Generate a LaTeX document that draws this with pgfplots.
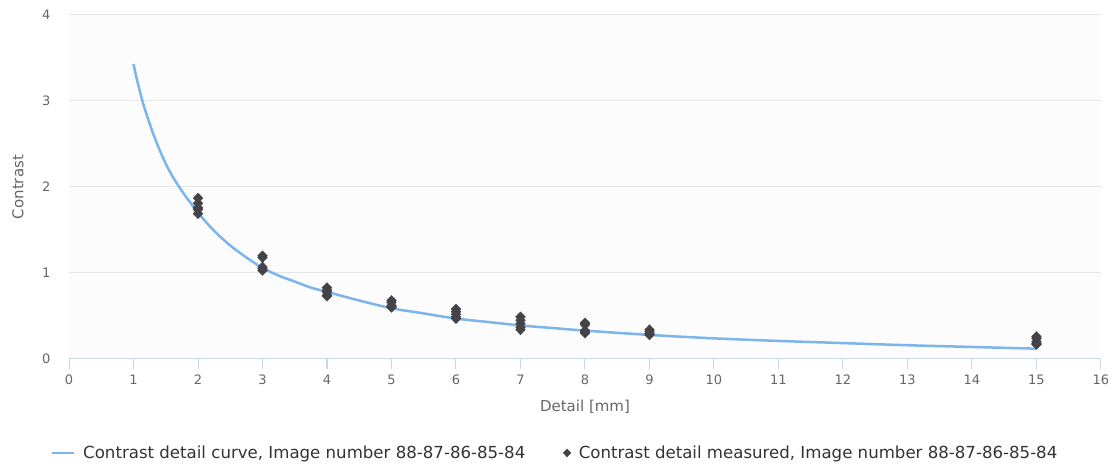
\documentclass[border=0pt]{standalone}
\usepackage{pgfplots}
\pgfplotsset{compat=1.18}
\usepackage{fontspec}
\setmainfont{DejaVu Sans}
\definecolor{curveblue}{HTML}{7CB5EC}
\definecolor{markgrey}{HTML}{434348}
\definecolor{gridgrey}{HTML}{E6E6E6}
\definecolor{axisline}{HTML}{CCD6EB}
\definecolor{labelgrey}{HTML}{666666}
\definecolor{legendtext}{HTML}{333333}
\begin{document}
\begin{tikzpicture}[x=1pt,y=1pt]
\useasboundingbox (0,0) rectangle (1115,468);
\begin{axis}[
  at={(69pt,109pt)}, anchor=south west,
  scale only axis, width=1032pt, height=344pt,
  xmin=0, xmax=16, ymin=0, ymax=4,
  xtick={0,1,...,16}, ytick={0,1,2,3,4},
  axis x line*=bottom, axis y line*=left,
  separate axis lines,
  x axis line style={draw=axisline, line width=1pt, -},
  y axis line style={draw=none},
  ymajorgrids, grid style={draw=gridgrey, line width=1pt},
  xtick style={draw=axisline, line width=1pt},
  ytick style={draw=none},
  tick align=outside, major tick length=10pt,
  xticklabel style={font=\fontsize{13}{15}\selectfont, text=labelgrey, yshift=-2pt},
  yticklabel style={font=\fontsize{13}{15}\selectfont, text=labelgrey, xshift=-5pt},
  /pgf/number format/assume math mode=true,
  xlabel={Detail [mm]}, ylabel={Contrast},
  xlabel style={font=\fontsize{15}{17}\selectfont, text=labelgrey, at={(axis description cs:0.5,-0.1395)}, anchor=center},
  ylabel style={font=\fontsize{15}{17}\selectfont, text=labelgrey, at={(axis description cs:-0.0494,0.5)}, anchor=center},
  axis background/.style={fill=black!1},
  legend columns=2,
  legend style={at={(rel axis cs:0.471,-0.273)}, anchor=center, draw=none, fill=none,
    font=\fontsize{16.6}{19}\selectfont, text=legendtext,
    /tikz/every odd column/.append style={column sep=6pt},
    /tikz/every even column/.append style={column sep=36pt}},
  legend cell align=left,
  clip=false,
]
\addplot[curveblue, line width=2.5pt, smooth, mark=none,
  legend image code/.code={\draw[curveblue, line width=2.5pt] (0pt,0pt) -- (22pt,0pt);}] coordinates {
(1,3.43) (1.05,3.26) (1.1,3.11) (1.15,2.97) (1.2,2.85) (1.3,2.63) (1.4,2.44)
(1.5,2.27) (1.6,2.13) (1.7,2.01) (1.8,1.90) (1.9,1.80) (2,1.70) (2.25,1.49)
(2.5,1.32) (2.75,1.18) (3,1.06) (3.25,0.97) (3.5,0.90) (3.75,0.83) (4,0.78)
(4.5,0.68) (5,0.59) (5.5,0.53) (6,0.47) (6.5,0.43) (7,0.39) (7.5,0.36)
(8,0.33) (9,0.28) (10,0.24) (11,0.21) (12,0.185) (13,0.16) (14,0.14) (15,0.12)
};
\addlegendentry{Contrast detail curve, Image number 88-87-86-85-84}
\addplot[only marks, mark=diamond*, mark size=5pt, mark options={xscale=1.3}, color=markgrey, fill=markgrey,
  legend image code/.code={\path[markgrey] plot[mark=diamond*, mark size=4pt, mark options={xscale=1.25, fill=markgrey}] coordinates {(6pt,0pt)};}] coordinates {
(2,1.87) (2,1.81) (2,1.76) (2,1.74) (2,1.69)
(3,1.20) (3,1.18) (3,1.07) (3,1.05) (3,1.03)
(4,0.83) (4,0.80) (4,0.78) (4,0.74) (4,0.73)
(5,0.68) (5,0.66) (5,0.62) (5,0.61) (5,0.60)
(6,0.58) (6,0.55) (6,0.52) (6,0.49) (6,0.47)
(7,0.49) (7,0.45) (7,0.41) (7,0.37) (7,0.34)
(8,0.42) (8,0.40) (8,0.33) (8,0.31) (8,0.30)
(9,0.34) (9,0.32) (9,0.30) (9,0.29) (9,0.28)
(15,0.26) (15,0.24) (15,0.20) (15,0.18) (15,0.17)
};
\addlegendentry{Contrast detail measured, Image number 88-87-86-85-84}
\end{axis}
\end{tikzpicture}
\end{document}
